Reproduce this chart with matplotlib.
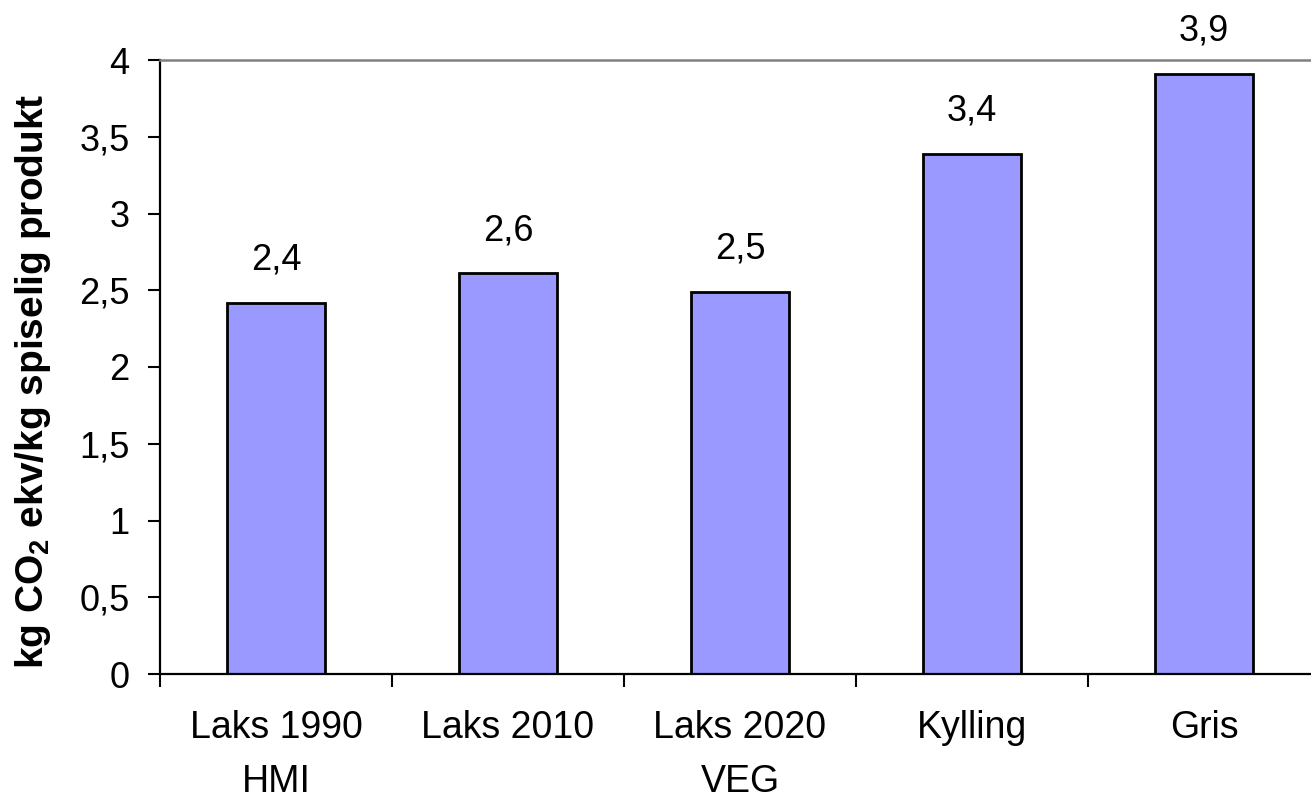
import matplotlib

matplotlib.use("Agg")
import matplotlib.pyplot as plt
from matplotlib.ticker import FixedLocator

plt.rcParams["font.family"] = ["Liberation Sans", "DejaVu Sans"]
plt.rcParams["mathtext.fontset"] = "custom"
plt.rcParams["mathtext.rm"] = "Liberation Sans:bold"
plt.rcParams["mathtext.bf"] = "Liberation Sans:bold"

# data
categories = ["Laks 1990\nHMI", "Laks 2010", "Laks 2020\nVEG", "Kylling", "Gris"]
values = [2.42, 2.61, 2.49, 3.39, 3.91]
value_labels = ["2,4", "2,6", "2,5", "3,4", "3,9"]
ytick_values = [0, 0.5, 1, 1.5, 2, 2.5, 3, 3.5, 4]
ytick_labels = ["0", "0,5", "1", "1,5", "2", "2,5", "3", "3,5", "4"]

W, H = 1311, 801
fig = plt.figure(figsize=(W / 100, H / 100), dpi=100)
ax = fig.add_axes([160 / W, (H - 674) / H, 1160 / W, 614 / H])

x = list(range(len(categories)))
bars = ax.bar(x, values, width=0.42, color="#9999ff", edgecolor="black", linewidth=2.0)

for xi, v, lab in zip(x, values, value_labels):
    ax.annotate(lab, (xi, v), xytext=(0, 24), textcoords="offset points",
                ha="center", va="baseline", fontsize=26, annotation_clip=False)

ax.set_xlim(-0.5, len(categories) - 0.5)
ax.set_ylim(0, 4)

ax.set_xticks(x)
ax.set_xticklabels(categories, fontsize=27, linespacing=1.65)
ax.xaxis.set_minor_locator(FixedLocator([i - 0.5 for i in range(len(categories) + 1)]))
ax.tick_params(axis="x", which="major", length=0, pad=26)
ax.tick_params(axis="x", which="minor", direction="out", length=9, width=1.5)

ax.set_yticks(ytick_values)
ax.set_yticklabels(ytick_labels, fontsize=26)
ax.tick_params(axis="y", direction="out", length=9, width=1.5, pad=13)

ax.spines["right"].set_visible(False)
ax.spines["top"].set_color("#808080")
ax.spines["top"].set_linewidth(1.8)
ax.spines["left"].set_linewidth(1.6)
ax.spines["bottom"].set_linewidth(1.6)

ax.set_ylabel(r"kg CO$_2$ ekv/kg spiselig produkt", fontsize=28, fontweight="bold")
ax.yaxis.set_label_coords(-0.092, 0.477)

fig.savefig("out.png", dpi=100)
